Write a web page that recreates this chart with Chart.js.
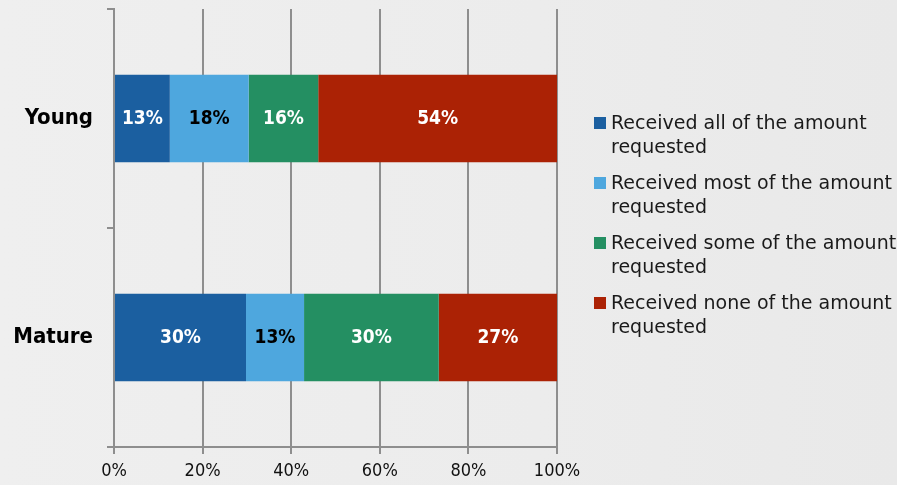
<!DOCTYPE html>
<html>
<head>
<meta charset="utf-8">
<script src="https://cdn.jsdelivr.net/npm/chart.js@4"></script>
<style>
  html, body { margin: 0; padding: 0; }
  body {
    width: 897px; height: 485px; overflow: hidden; position: relative;
    background: linear-gradient(to right, #efefef, #ececec 60%, #e9e9e9);
  }
  #wrap { position: absolute; left: 0; top: 0; width: 897px; height: 485px; }
  #legend { position: absolute; left: 594px; top: 110px; font-family: "DejaVu Sans", sans-serif; }
  .item { position: relative; height: 48px; margin-bottom: 12px; }
  .box { position: absolute; left: 0; top: 7px; width: 12px; height: 12px; }
  .txt { position: absolute; left: 17px; top: 0; width: 300px; font-size: 19px; line-height: 24px; color: #1a1a1a; }
</style>
</head>
<body>
<div id="wrap"><canvas id="myChart" width="897" height="485"></canvas></div>
<div id="legend"></div>
<script>
const categories = ['Young', 'Mature']
const seriesNames = [
  'Received all of the amount requested',
  'Received most of the amount requested',
  'Received some of the amount requested',
  'Received none of the amount requested'
]
const allAmount = [12.6, 29.8]
const mostAmount = [17.8, 13.1]
const someAmount = [15.7, 30.4]
const noneAmount = [53.9, 26.7]
const xTicks = [0, 20, 40, 60, 80, 100]

const colors = ['#1b5fa0', '#4ea7de', '#248f62', '#ab2205']
const labelColors = ['#ffffff', '#000000', '#ffffff', '#ffffff']
const seriesValues = [allAmount, mostAmount, someAmount, noneAmount]
const fontFamily = '"DejaVu Sans Condensed", "DejaVu Sans", sans-serif'
const gridColor = '#8e8e8e'

const datasets = seriesValues.map((vals, i) => ({
  label: seriesNames[i],
  data: vals,
  backgroundColor: colors[i],
  borderWidth: 0,
  barPercentage: 0.4,
  categoryPercentage: 1
}))

// percentage text in the middle of each segment
const barLabels = {
  id: 'barLabels',
  afterDatasetsDraw (chart) {
    const ctx = chart.ctx
    ctx.save()
    ctx.font = 'bold 19px ' + fontFamily
    ctx.textAlign = 'center'
    ctx.textBaseline = 'middle'
    chart.data.datasets.forEach((ds, i) => {
      chart.getDatasetMeta(i).data.forEach((bar, j) => {
        const mid = (bar.x + bar.base) / 2
        ctx.fillStyle = labelColors[i]
        ctx.fillText(Math.round(ds.data[j]) + '%', mid, bar.y + 1)
      })
    })
    ctx.restore()
  }
}

const noPad = (scale) => {
  scale.paddingTop = 0
  scale.paddingBottom = 0
}

let ctx = document.getElementById('myChart').getContext('2d')
let chart = new Chart(ctx, {
  type: 'bar',
  data: { labels: categories, datasets: datasets },
  options: {
    indexAxis: 'y',
    responsive: false,
    animation: false,
    layout: { padding: { top: 9, right: 340, left: 0, bottom: 0 } },
    plugins: { legend: { display: false }, tooltip: { enabled: false } },
    scales: {
      x: {
        stacked: true,
        min: 0,
        max: 100,
        afterBuildTicks: (scale) => { scale.ticks = xTicks.map(v => ({ value: v })) },
        afterFit: (scale) => { scale.height = 38 },
        grid: { color: gridColor, lineWidth: 2, tickLength: 7 },
        border: { color: gridColor, width: 2 },
        ticks: {
          callback: (v) => v + '%',
          color: '#111',
          padding: 7,
          font: { family: fontFamily, size: 18 }
        }
      },
      y: {
        stacked: true,
        afterFit: (scale) => { scale.width = 114; noPad(scale) },
        grid: { offset: true, drawOnChartArea: false, color: gridColor, lineWidth: 2, tickLength: 7 },
        border: { color: gridColor, width: 2 },
        ticks: {
          color: '#000',
          padding: 14,
          font: { family: fontFamily, size: 22, weight: 'bold' }
        }
      }
    }
  },
  plugins: [barLabels]
})

const legend = document.getElementById('legend')
seriesNames.forEach((name, i) => {
  const item = document.createElement('div')
  item.className = 'item'
  item.innerHTML = `<div class="box" style="background:${colors[i]}"></div><div class="txt">${name}</div>`
  legend.appendChild(item)
})
</script>
</body>
</html>
